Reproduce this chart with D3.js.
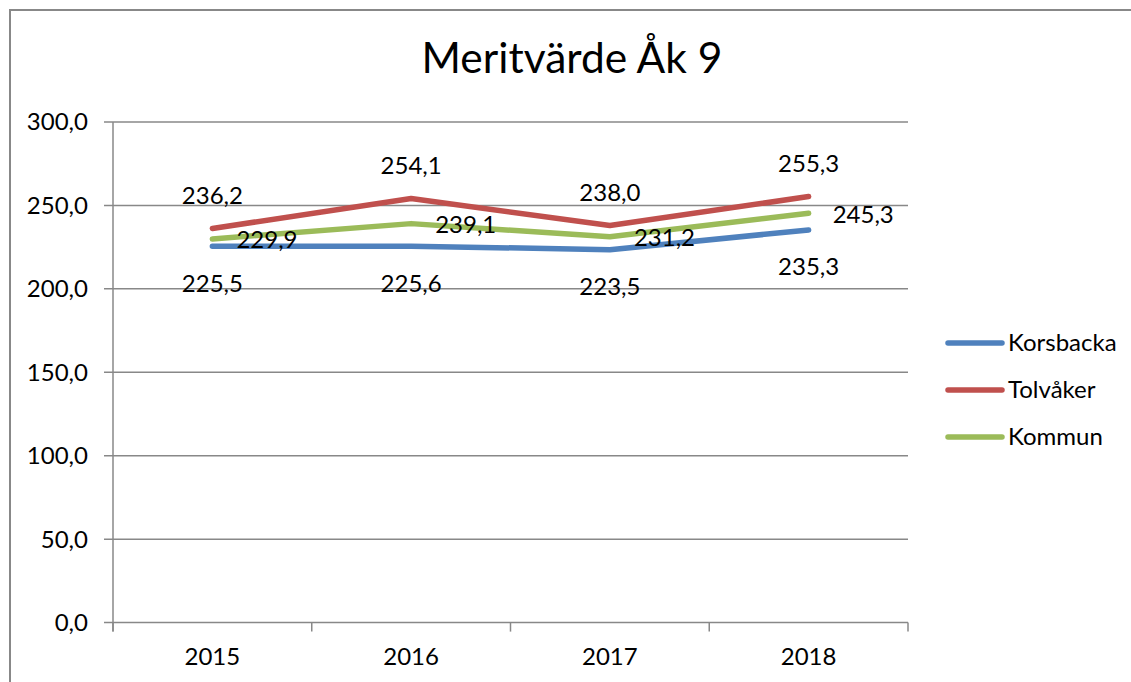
<!DOCTYPE html>
<html>
<head>
<meta charset="utf-8">
<script src="https://cdn.jsdelivr.net/npm/d3@7"></script>
<style>
  body { margin: 0; background: #fff; }
  text { font-family: Lato, "Noto Sans", sans-serif; fill: #000; }
</style>
</head>
<body>
<div id="viz"></div>
<script>
var years = ['2015', '2016', '2017', '2018'];
var korsbacka = [225.5, 225.6, 223.5, 235.3];
var tolvaker = [236.2, 254.1, 238.0, 255.3];
var kommun = [229.9, 239.1, 231.2, 245.3];
var yTicks = [0, 50, 100, 150, 200, 250, 300];

var series = [
  {name: 'Korsbacka', values: korsbacka, color: '#4F81BD', label: 'below'},
  {name: 'Tolvåker', values: tolvaker, color: '#C0504D', label: 'above'},
  {name: 'Kommun', values: kommun, color: '#9BBB59', label: 'right'}
];

var W = 1131, H = 682;
var plot = {left: 113, right: 908, top: 122, bottom: 622.6};

var svg = d3.select('#viz').append('svg')
    .attr('width', W)
    .attr('height', H);

// outer frame (only top and left edges visible)
svg.append('path')
    .attr('d', 'M10,' + H + 'V10H' + W)
    .attr('fill', 'none')
    .attr('stroke', '#888')
    .attr('stroke-width', 2);

svg.append('text')
    .attr('x', 572)
    .attr('y', 73)
    .attr('text-anchor', 'middle')
    .style('font-size', '42.5px')
    .text('Meritvärde Åk 9');

var x = d3.scaleBand()
    .domain(years)
    .range([plot.left, plot.right])
    .padding(0);

var y = d3.scaleLinear()
    .domain([0, 300])
    .range([plot.bottom, plot.top]);

var fmt = function(v) { return d3.format('.1f')(v).replace('.', ','); };

// gridlines
svg.append('g')
    .selectAll('line')
    .data(yTicks)
    .enter().append('line')
        .attr('x1', plot.left - 9)
        .attr('x2', plot.right)
        .attr('y1', function(d) { return y(d); })
        .attr('y2', function(d) { return y(d); })
        .attr('stroke', '#888')
        .attr('stroke-width', 1.5);

// y labels
svg.append('g')
    .selectAll('text')
    .data(yTicks)
    .enter().append('text')
        .attr('x', 88)
        .attr('y', function(d) { return y(d); })
        .attr('dy', '0.35em')
        .attr('text-anchor', 'end')
        .style('font-size', '24px')
        .text(fmt);

// y axis line
svg.append('line')
    .attr('x1', plot.left).attr('x2', plot.left)
    .attr('y1', plot.top).attr('y2', plot.bottom + 9)
    .attr('stroke', '#888')
    .attr('stroke-width', 1.5);

// x category ticks
var xTickPos = years.map(function(d) { return x(d); }).concat([plot.right]);
svg.append('g')
    .selectAll('line')
    .data(xTickPos)
    .enter().append('line')
        .attr('x1', function(d) { return d; })
        .attr('x2', function(d) { return d; })
        .attr('y1', plot.bottom)
        .attr('y2', plot.bottom + 9)
        .attr('stroke', '#888')
        .attr('stroke-width', 1.5);

svg.append('g')
    .selectAll('text')
    .data(years)
    .enter().append('text')
        .attr('x', function(d) { return x(d) + x.bandwidth() / 2; })
        .attr('y', 665)
        .attr('text-anchor', 'middle')
        .style('font-size', '24px')
        .text(function(d) { return d; });

var line = d3.line()
    .x(function(d, i) { return x(years[i]) + x.bandwidth() / 2; })
    .y(function(d) { return y(d); });

series.forEach(function(s) {
  svg.append('path')
      .datum(s.values)
      .attr('d', line)
      .attr('fill', 'none')
      .attr('stroke', s.color)
      .attr('stroke-width', 5.5)
      .attr('stroke-linecap', 'round')
      .attr('stroke-linejoin', 'round');
});

// data labels
series.forEach(function(s) {
  svg.append('g')
      .selectAll('text')
      .data(s.values)
      .enter().append('text')
          .attr('x', function(d, i) {
              var cx = x(years[i]) + x.bandwidth() / 2;
              return s.label == 'right' ? cx + 24 : cx;
          })
          .attr('y', function(d) {
              if (s.label == 'above') return y(d) - 33;
              if (s.label == 'below') return y(d) + 37;
              return y(d) + 1;
          })
          .attr('dy', '0.35em')
          .attr('text-anchor', s.label == 'right' ? 'start' : 'middle')
          .style('font-size', '24px')
          .text(fmt);
});

// legend
var legend = svg.append('g')
    .selectAll('g')
    .data(series)
    .enter().append('g')
        .attr('transform', function(d, i) { return 'translate(948,' + (343 + i * 47) + ')'; });

legend.append('line')
    .attr('x1', 0).attr('x2', 54)
    .attr('stroke', function(d) { return d.color; })
    .attr('stroke-width', 5.5)
    .attr('stroke-linecap', 'round');

legend.append('text')
    .attr('x', 60)
    .attr('dy', '0.35em')
    .style('font-size', '24px')
    .text(function(d) { return d.name; });
</script>
</body>
</html>
